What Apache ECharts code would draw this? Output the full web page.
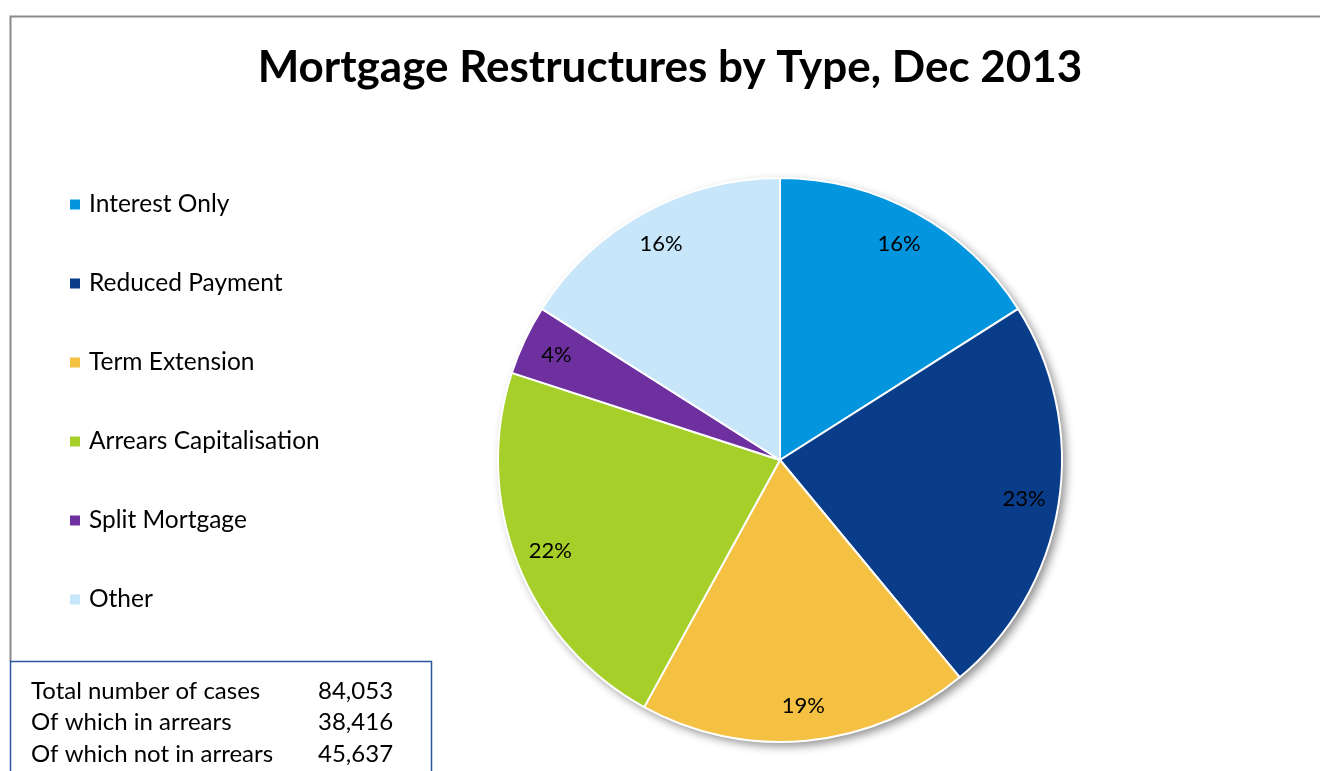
<!DOCTYPE html>
<html>
<head>
<meta charset="utf-8">
<script src="https://cdn.jsdelivr.net/npm/echarts@6/dist/echarts.min.js"></script>
<style>
  html, body { margin: 0; padding: 0; background: #fff; }
  #main { width: 1320px; height: 771px; }
</style>
</head>
<body>
<div id="main"></div>
<script>
// restructure types and their share (%)
const types = ['Interest Only', 'Reduced Payment', 'Term Extension', 'Arrears Capitalisation', 'Split Mortgage', 'Other'];
const shares = [16, 23, 19, 22, 4, 16];
const colors = ['#0396df', '#0a3d89', '#f5c143', '#a6cf29', '#6f309f', '#c7e6f9'];

// summary box
const statLabels = ['Total number of cases', 'Of which in arrears', 'Of which not in arrears'];
const statValues = ['84,053', '38,416', '45,637'];

const FONT = 'Lato, "Open Sans", sans-serif';
const chart = echarts.init(document.getElementById('main'));

const pieData = types.map((t, i) => ({ name: t, value: shares[i], itemStyle: { color: colors[i] } }));
const total = shares.reduce((a, b) => a + b, 0);

// summary text rows
const statText = [];
statLabels.forEach((s, i) => {
  const y = 691 + i * 31.5;
  statText.push({ type: 'text', x: 31, y: y, z: 10,
    style: { text: s, font: '24px ' + FONT, fill: '#000', verticalAlign: 'middle' } });
  statText.push({ type: 'text', x: 318, y: y, z: 10,
    style: { text: statValues[i], font: '24px ' + FONT, fill: '#000', verticalAlign: 'middle' } });
});

const option = {
  backgroundColor: '#fff',
  animation: false,
  title: {
    text: 'Mortgage Restructures by Type, Dec 2013',
    left: 670,
    textAlign: 'center',
    top: 43,
    padding: 0,
    textStyle: { fontFamily: FONT, fontWeight: 'bold', fontSize: 44, color: '#000', lineHeight: 50 }
  },
  legend: {
    data: types,
    orient: 'vertical',
    left: 68,
    top: 192,
    padding: 0,
    icon: 'rect',
    itemWidth: 12,
    itemHeight: 12,
    itemGap: 54,
    selectedMode: false,
    textStyle: { fontFamily: FONT, fontSize: 24.5, color: '#000', lineHeight: 25, padding: [0, 0, 0, 3] }
  },
  graphic: [
    { type: 'polyline', z: 0, silent: true,
      shape: { points: [[10.5, 662], [10.5, 16.5], [1320, 16.5]] },
      style: { stroke: '#8a8a8a', lineWidth: 2, fill: null } },
    { type: 'rect', z: 0, silent: true,
      shape: { x: 10.5, y: 661.5, width: 421, height: 200 },
      style: { stroke: '#2b579c', lineWidth: 1.5, fill: '#fff' } }
  ].concat(statText),
  series: [
    {
      // main slices
      type: 'pie',
      name: 'types',
      z: 2,
      center: [780, 460],
      radius: [0, 282],
      startAngle: 90,
      silent: true,
      label: { show: false },
      labelLine: { show: false },
      itemStyle: { borderColor: '#fff', borderWidth: 2 },
      data: pieData
    },
    {
      // labels placed on an outer ring so they sit near the rim
      type: 'pie',
      name: 'labels',
      z: 3,
      center: [780, 460],
      radius: [206, 282],
      startAngle: 90,
      silent: true,
      itemStyle: { color: 'rgba(0,0,0,0)', borderWidth: 0 },
      label: {
        show: true,
        position: 'inside',
        formatter: p => p.value + '%',
        fontFamily: FONT,
        fontSize: 22,
        color: '#000'
      },
      labelLine: { show: false },
      data: pieData.map(d => ({ name: d.name, value: d.value }))
    },
    {
      // drop shadow under the whole pie
      type: 'pie',
      name: 'shadow',
      z: 1,
      center: [780, 460],
      radius: [0, 282],
      silent: true,
      label: { show: false },
      labelLine: { show: false },
      itemStyle: { color: '#fff', shadowBlur: 10, shadowOffsetX: 4, shadowOffsetY: 4, shadowColor: 'rgba(0,0,0,0.45)' },
      data: [{ name: '', value: total }]
    }
  ]
};
chart.setOption(option);
</script>
</body>
</html>
